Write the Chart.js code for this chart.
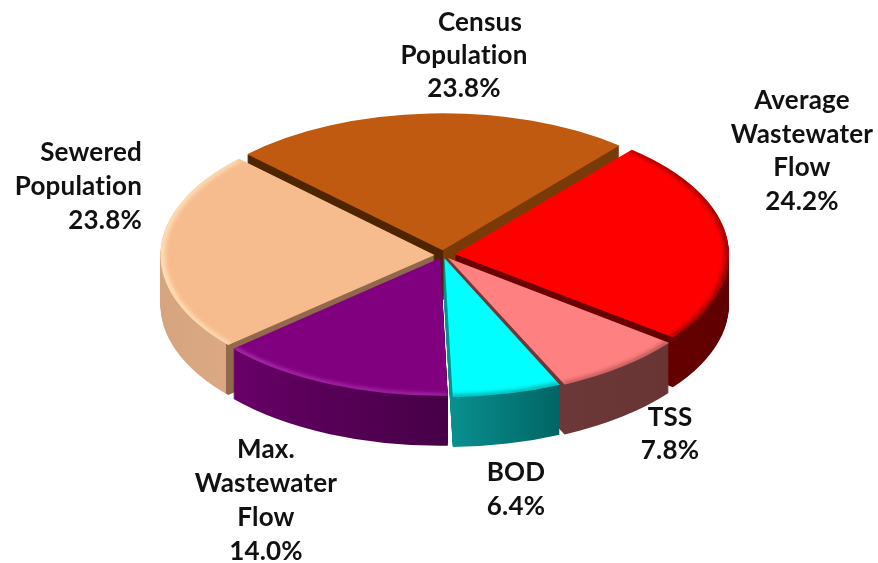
<!DOCTYPE html>
<html>
<head>
<meta charset="utf-8">
<style>
html,body{margin:0;padding:0;background:#fff}
#wrap{position:relative;width:878px;height:563px}
</style>
<script src="https://cdn.jsdelivr.net/npm/chart.js@4"></script>
</head>
<body>
<div id="wrap"><canvas id="c" width="878" height="563"></canvas></div>
<script>
const categories = ['Census Population','Average Wastewater Flow','TSS','BOD','Max. Wastewater Flow','Sewered Population'];
const shares = [23.8, 24.2, 7.8, 6.4, 14.0, 23.8];
const labelLines = [['Census','Population'],['Average','Wastewater','Flow'],['TSS'],['BOD'],['Max.','Wastewater','Flow'],['Sewered','Population']];
const faceColors = ['#C05A10','#FF0000','#FF8080','#00FFFF','#800080','#F7BC8E'];
const explode = [38, 48, 32, 26, 26, 34];

// --- presentation only ---
const TILT = 0.5, FACE_Y = 255, DEPTH = 50, RADIUS = 274;
const paintOrder = [0, 5, 1, 4, 2, 3];
const sideStops = [
  [[443,'#4f2500'],[443,'#7a3a08']],
  [[560,'#6b0000'],[727,'#600000']],
  [[450,'#6f3a3a'],[668,'#683434']],
  [[450,'#0a8f8f'],[560,'#006464']],
  [[233,'#6a006a'],[300,'#5c005c'],[447,'#470047']],
  [[160,'#d5a57f'],[234,'#dba883'],[234,'#93694c'],[445,'#8f674a']]
];
const rimStyle = [null,
  {c:'rgba(110,0,0,0.65)',w:7},
  {c:'rgba(110,45,45,0.6)',w:6},
  {c:'rgba(0,90,90,0.7)',w:6},
  {c:'rgba(205,85,205,0.8)',w:5},
  {c:'rgba(255,226,190,0.9)',w:7}];
const labelBoxes = [
  {x:464,y:23,lh:33,a:'center',firstDx:16},
  {x:802,y:101,lh:33.5,a:'center'},
  {x:670,y:418,lh:33,a:'center'},
  {x:516,y:473,lh:34,a:'center'},
  {x:266,y:450,lh:34,a:'center'},
  {x:142,y:153,lh:34,a:'right'}
];

const pie3d = {
  id:'pie3d',
  beforeDatasetDraw(chart, args){
    const ctx = chart.ctx, meta = chart.getDatasetMeta(args.index);
    const setTransform = (dy, arc) => {
      ctx.translate(0, FACE_Y + dy);
      ctx.scale(1, TILT);
      ctx.translate(0, -arc.y);
    };
    paintOrder.forEach(i => {
      const arc = meta.data[i], base = arc.options;
      const g = ctx.createLinearGradient(150,0,740,0);
      sideStops[i].forEach(s => g.addColorStop(Math.min(1,Math.max(0,(s[0]-150)/590)), s[1]));
      const sideOpts = Object.create(base);
      Object.defineProperty(sideOpts,'backgroundColor',{value:g});
      arc.options = sideOpts;
      for (let d = DEPTH; d >= 1; d--) {
        ctx.save(); setTransform(d, arc); arc.draw(ctx, chart.chartArea); ctx.restore();
      }
      arc.options = base;
      ctx.save(); setTransform(0, arc); arc.draw(ctx, chart.chartArea);
      const rim = rimStyle[i];
      if (rim) {
        const mid = (arc.startAngle + arc.endAngle)/2, off = (base.offset||0)/4;
        const fix = 1 - Math.sin(Math.min(Math.PI, arc.circumference));
        const ox = arc.x + Math.cos(mid)*off, oy = arc.y + Math.sin(mid)*off;
        const r = arc.outerRadius + off*fix;
        ctx.beginPath(); ctx.moveTo(ox,oy); ctx.arc(ox,oy,r,arc.startAngle,arc.endAngle); ctx.closePath(); ctx.clip();
        ctx.filter = 'blur(2px)';
        ctx.strokeStyle = rim.c; ctx.lineWidth = rim.w;
        ctx.beginPath(); ctx.arc(ox,oy,r-1,arc.startAngle,arc.endAngle); ctx.stroke();
        ctx.filter = 'none';
      }
      ctx.restore();
    });
    return false;
  },
  afterDraw(chart){
    const ctx = chart.ctx;
    ctx.save();
    ctx.font = 'bold 26px Lato, "Open Sans", sans-serif';
    ctx.letterSpacing = '0.2px';
    ctx.fillStyle = '#111';
    ctx.textBaseline = 'middle';
    labelLines.forEach((lines,i) => {
      const b = labelBoxes[i];
      ctx.textAlign = b.a;
      lines.concat(shares[i].toFixed(1)+'%').forEach((t,k) => ctx.fillText(t, b.x + (k === 0 && b.firstDx ? b.firstDx : 0), b.y + k*b.lh));
    });
    ctx.restore();
  }
};

new Chart(document.getElementById('c'), {
  type:'pie',
  data:{labels:categories,datasets:[{data:shares,backgroundColor:faceColors,offset:explode,borderWidth:0,radius:RADIUS}]},
  options:{
    responsive:false,animation:false,rotation:-45.5,radius:RADIUS,
    layout:{padding:{left:8}},
    plugins:{legend:{display:false},tooltip:{enabled:false},title:{display:false}}
  },
  plugins:[pie3d]
});
</script>
</body>
</html>
